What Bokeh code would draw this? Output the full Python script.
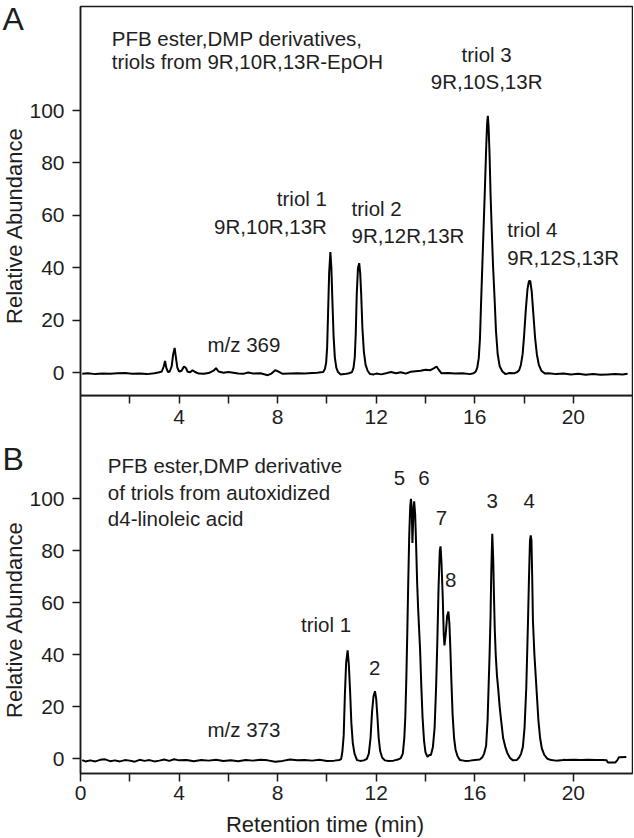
import math
from bokeh.plotting import figure
from bokeh.models import FixedTicker, Label, Range1d, ColumnDataSource
from bokeh.layouts import column, row
from bokeh.embed import file_html
from bokeh.resources import INLINE

# ---------------- data (time in min, relative abundance) ----------------
# Panel A : m/z 369, triols from 9R,10R,13R-EpOH
a_early = [(0.07, -0.4), (0.3, -0.2), (0.6, -0.5), (0.9, -0.3), (1.2, -0.4), (1.5, -0.2),
           (1.8, -0.1), (2.1, -0.4), (2.4, -0.3), (2.7, -0.5), (3.0, -0.2), (3.2, 0.2),
           (3.3, 0.5), (3.38, 2.5), (3.43, 4.5), (3.48, 2.0), (3.55, 0.3), (3.62, 0.5),
           (3.70, 2.5), (3.76, 7.0), (3.82, 9.5), (3.87, 6.0), (3.93, 2.0), (4.0, 0.5),
           (4.1, 0.8), (4.2, 2.4), (4.28, 1.8), (4.35, 0.4), (4.45, 0.2), (4.55, 1.0),
           (4.65, 0.3), (4.8, -0.3), (5.0, -0.4), (5.2, -0.1), (5.4, 0.8), (5.5, 1.8),
           (5.6, 0.5), (5.8, 0.0), (6.0, 0.3), (6.2, 0.0), (6.4, -0.3), (6.6, -0.4),
           (6.8, 0.1), (7.0, -0.3), (7.3, -0.2), (7.6, -0.9), (7.75, -0.3), (7.9, 1.0),
           (8.0, 0.6), (8.2, -0.4), (8.5, -0.3), (8.8, -0.2), (9.1, -0.3), (9.4, -0.1),
           (9.6, 0.0), (9.75, 0.2)]
a_triol1 = [(9.85, 0.3), (9.92, 1.5), (9.97, 4), (10.01, 10), (10.05, 24), (10.09, 38),
            (10.14, 46), (10.18, 40), (10.22, 28), (10.27, 14), (10.32, 6), (10.38, 2),
            (10.45, 0.3), (10.55, -0.6), (10.7, -0.5), (10.85, -0.3), (10.95, 0.0)]
a_triol2 = [(11.02, 0.3), (11.08, 2), (11.13, 6), (11.17, 15), (11.21, 30), (11.26, 40),
            (11.31, 41.8), (11.35, 38), (11.39, 30), (11.44, 17), (11.50, 8), (11.57, 3),
            (11.65, 0.8), (11.75, -0.5), (11.9, -0.6), (12.0, -0.3), (12.2, -0.6),
            (12.4, -0.2), (12.6, 0.3), (12.8, -0.2), (13.0, 0.2), (13.2, -0.3), (13.4, 0.4),
            (13.6, 0.6), (13.8, 0.8), (14.0, 1.2), (14.2, 1.0), (14.35, 1.8), (14.45, 2.4),
            (14.55, 1.0), (14.65, -0.2), (14.9, -0.1), (15.2, -0.3), (15.5, -0.2),
            (15.8, -0.5), (15.95, -0.2), (16.04, 0.5)]
a_triol3 = [(16.10, 2), (16.16, 5.5), (16.21, 13), (16.26, 28), (16.31, 42), (16.36, 56),
            (16.41, 70), (16.46, 85), (16.50, 95), (16.53, 98), (16.56, 94), (16.60, 83),
            (16.64, 68), (16.69, 54), (16.74, 41), (16.80, 29), (16.86, 16), (16.93, 7),
            (17.01, 2.5), (17.12, 0.5), (17.25, -0.5), (17.4, -0.1), (17.6, -0.2), (17.72, 0.3)]
a_triol4 = [(17.80, 1), (17.87, 3), (17.94, 7), (18.00, 14), (18.07, 24), (18.14, 32),
            (18.20, 35), (18.25, 35), (18.31, 31), (18.38, 22), (18.45, 13), (18.52, 7),
            (18.60, 3), (18.70, 0.8), (18.85, -0.3), (19.0, -0.2), (19.3, -0.5), (19.6, -0.3),
            (19.9, -0.6), (20.2, -0.4), (20.5, -0.7), (20.8, -0.5), (21.1, -0.7), (21.4, -0.6),
            (21.7, -0.5), (22.0, -0.6), (22.2, -0.4)]

# Panel B : m/z 373, triols from autoxidized d4-linoleic acid
b_early = [(0.07, -0.5), (0.2, -1.0), (0.4, -0.6), (0.6, -1.0), (0.8, -0.4), (1.0, -0.2),
           (1.2, -0.9), (1.4, -0.6), (1.6, -1.0), (1.8, -0.5), (2.0, -0.7), (2.2, -1.1),
           (2.4, -0.4), (2.6, -0.8), (2.8, -0.5), (3.0, -1.0), (3.2, -0.7), (3.4, -0.3),
           (3.6, -0.8), (3.8, -0.2), (4.0, -0.6), (4.3, -0.5), (4.6, -0.9), (4.9, -0.5),
           (5.2, -0.7), (5.5, -0.4), (5.8, -0.8), (6.1, -0.6), (6.4, -0.9), (6.7, -0.5),
           (7.0, -0.7), (7.3, -0.4), (7.6, -0.6), (7.9, -1.1), (8.2, -0.8), (8.5, -0.3),
           (8.8, -0.6), (9.1, -0.5), (9.4, -0.7), (9.7, -0.4), (10.0, -0.8), (10.3, -0.7),
           (10.5, -0.5)]
b_triol1 = [(10.58, 0.0), (10.63, 3), (10.68, 9), (10.73, 25), (10.78, 37), (10.84, 41.7),
            (10.89, 36), (10.94, 26), (10.99, 14), (11.05, 6), (11.12, 2), (11.22, -0.5),
            (11.35, -0.8), (11.5, -0.6)]
b_peak2 = [(11.62, 0.0), (11.70, 2), (11.77, 8), (11.83, 18), (11.89, 24), (11.95, 26),
           (12.00, 23), (12.05, 16), (12.10, 8), (12.16, 3), (12.24, 0.5), (12.35, -0.6),
           (12.5, -0.8), (12.7, -0.7), (12.88, -0.3)]
b_peak56 = [(13.00, 0.3), (13.08, 2), (13.14, 8), (13.18, 16), (13.22, 30), (13.26, 48),
            (13.30, 68), (13.34, 86), (13.38, 97), (13.41, 100), (13.44, 97), (13.47, 83),
            (13.50, 92), (13.54, 99), (13.58, 94), (13.62, 82), (13.66, 68), (13.70, 58),
            (13.74, 50), (13.78, 42), (13.83, 28), (13.88, 16), (13.94, 7), (14.00, 2.5),
            (14.08, 0.8), (14.16, 1.5)]
b_peak78 = [(14.22, 1.5), (14.30, 4.5), (14.37, 12), (14.43, 27.5), (14.48, 45), (14.53, 66),
            (14.58, 80), (14.61, 81.7), (14.65, 75), (14.70, 62), (14.74, 48), (14.77, 43.6),
            (14.82, 48), (14.88, 55), (14.93, 56.6), (14.97, 52), (15.01, 42), (15.05, 30),
            (15.10, 17), (15.16, 8), (15.22, 3.5), (15.30, 1), (15.40, -0.5), (15.6, -0.8),
            (15.8, -0.7), (16.0, -0.5), (16.2, -0.3)]
b_peak3 = [(16.30, 0.5), (16.38, 2), (16.46, 5), (16.52, 15), (16.56, 27.5), (16.60, 40),
           (16.64, 55), (16.67, 72), (16.71, 86.5), (16.75, 76), (16.78, 62), (16.81, 50),
           (16.85, 40), (16.90, 32), (16.95, 27), (17.01, 20), (17.07, 14.7), (17.15, 8),
           (17.24, 4.5), (17.33, 2), (17.43, 0.3), (17.55, -0.6), (17.7, -0.5)]
b_peak4 = [(17.80, 0.5), (17.88, 2), (17.95, 4.5), (18.02, 12), (18.09, 27.5), (18.13, 42),
           (18.16, 53), (18.20, 70), (18.24, 84), (18.27, 85.9), (18.30, 84), (18.33, 70),
           (18.36, 53), (18.42, 40), (18.50, 27.5), (18.58, 15), (18.65, 8), (18.72, 4),
           (18.82, 1.5), (18.95, 0), (19.1, -0.5), (19.3, -0.7), (19.5, -0.6), (19.62, -0.4)]
b_tail = [(19.7, -0.5), (20.0, -0.4), (20.3, -0.5), (20.6, -0.4), (20.9, -0.5), (21.2, -0.5),
          (21.35, -0.6), (21.4, -1.4), (21.7, -1.4), (21.78, -0.6), (21.85, 0.6), (22.15, 0.7)]

x_ticks_a = [4, 8, 12, 16, 20]
x_ticks_b = [0, 4, 8, 12, 16, 20]
x_minor = [2, 6, 10, 14, 18]
y_ticks = [0, 20, 40, 60, 80, 100]

FONT = "Liberation Sans"
TXT = "#1e1e1e"
LINE = "#1a1a1a"
XR = (0, 22.4)
GUTTER = 26
PPU_A = 389 / 148.3   # pixels per abundance unit, panel A
PPU_B = 378 / 145.35  # pixels per abundance unit, panel B


def series(*segments):
    pts = [p for seg in segments for p in seg]
    return ColumnDataSource(dict(t=[p[0] for p in pts], v=[p[1] for p in pts]))


def style(p, xticks, xstandoff):
    p.xaxis.ticker = FixedTicker(ticks=xticks, minor_ticks=x_minor)
    p.yaxis.ticker = FixedTicker(ticks=y_ticks, minor_ticks=[])
    for ax in p.axis:
        ax.major_tick_out = 8
        ax.major_tick_in = 0
        ax.minor_tick_out = 8
        ax.minor_tick_in = 0
        ax.axis_line_color = LINE
        ax.major_tick_line_color = LINE
        ax.minor_tick_line_color = LINE
        ax.axis_line_width = 1.5
        ax.major_tick_line_width = 1.5
        ax.minor_tick_line_width = 1.5
        ax.major_label_text_font = FONT
        ax.major_label_text_font_size = "21px"
        ax.major_label_text_color = TXT
    p.xaxis.major_label_standoff = xstandoff
    p.yaxis.major_label_standoff = 8
    p.xgrid.visible = False
    p.ygrid.visible = False
    p.outline_line_color = LINE
    p.outline_line_width = 1.5
    p.outline_line_alpha = 1.0


def label(p, x, y_base, text, ppu=1.0, align="left", size=20.5, angle=0.0):
    # y_base is the text baseline; the label is anchored at the middle of the capitals
    y = y_base + 0.36 * size / ppu
    p.add_layout(Label(x=x, y=y, text=text, text_align=align, text_baseline="middle",
                       text_font=FONT, text_font_size=f"{size}px", text_color=TXT, angle=angle))


def blank(width, height, x_range, y_range, left=0, right=0):
    p = figure(frame_width=width, frame_height=height, x_range=x_range, y_range=y_range,
               x_axis_type=None, y_axis_type=None, output_backend="svg", toolbar_location=None,
               min_border_left=left, min_border_right=right, min_border_top=0, min_border_bottom=0)
    p.outline_line_color = None
    p.grid.visible = False
    p.background_fill_color = None
    p.border_fill_color = None
    return p


# ---- panel A ----
pA = figure(frame_width=552, frame_height=389, x_range=Range1d(*XR), y_range=Range1d(-8.65, 139.65),
            output_backend="svg", toolbar_location=None,
            min_border_left=80 - GUTTER, min_border_right=1, min_border_top=6, min_border_bottom=50)
style(pA, x_ticks_a, 6)
pA.line("t", "v", source=series(a_early, a_triol1, a_triol2, a_triol3, a_triol4),
        line_color="black", line_width=2)

label(pA, 1.27, 124.8, "PFB ester,DMP derivatives,", PPU_A)
label(pA, 1.27, 115.8, "triols from 9R,10R,13R-EpOH", PPU_A)
label(pA, 16.48, 118.7, "triol 3", PPU_A, align="center")
label(pA, 16.48, 108.3, "9R,10S,13R", PPU_A, align="center")
label(pA, 10.0, 63.8, "triol 1", PPU_A, align="right")
label(pA, 10.0, 53.0, "9R,10R,13R", PPU_A, align="right")
label(pA, 11.0, 60.0, "triol 2", PPU_A)
label(pA, 11.0, 49.4, "9R,12R,13R", PPU_A)
label(pA, 17.32, 51.7, "triol 4", PPU_A)
label(pA, 17.32, 41.3, "9R,12S,13R", PPU_A)
label(pA, 5.15, 7.85, "m/z 369", PPU_A)

# ---- panel B ----
pB = figure(frame_width=552, frame_height=378, x_range=Range1d(*XR), y_range=Range1d(-5.65, 139.7),
            output_backend="svg", toolbar_location=None,
            min_border_left=80 - GUTTER, min_border_right=1, min_border_top=0, min_border_bottom=52)
style(pB, x_ticks_b, 4)
pB.background_fill_color = None
pB.border_fill_color = None
pB.styles = {"margin-top": "-50px"}
pB.line("t", "v", source=series(b_early, b_triol1, b_peak2, b_peak56, b_peak78, b_peak3, b_peak4, b_tail),
        line_color="black", line_width=2)

label(pB, 1.11, 110.1, "PFB ester,DMP derivative", PPU_B)
label(pB, 1.11, 99.7, "of triols from autoxidized", PPU_B)
label(pB, 1.11, 89.7, "d4-linoleic acid", PPU_B)
label(pB, 12.94, 105.1, "5", PPU_B, align="center")
label(pB, 13.94, 105.1, "6", PPU_B, align="center")
label(pB, 14.65, 89.7, "7", PPU_B, align="center")
label(pB, 15.02, 66.0, "8", PPU_B, align="center")
label(pB, 16.71, 96.2, "3", PPU_B, align="center")
label(pB, 18.21, 96.2, "4", PPU_B, align="center")
label(pB, 10.98, 48.7, "triol 1", PPU_B, align="right")
label(pB, 11.94, 32.0, "2", PPU_B, align="center")
label(pB, 5.15, 8.3, "m/z 373", PPU_B)

# ---- x-axis title strip (page y 807..837) ----
pX = blank(552, 30, Range1d(*XR), Range1d(0, 30), left=80 - GUTTER, right=1)
pX.styles = {"margin-top": "-18px"}
label(pX, 9.92, 837 - 832, "Retention time (min)", align="center", size=22)

# ---- left gutter with panel letters and y-axis titles (page pixel coordinates) ----
pG = blank(GUTTER, 838, Range1d(0, GUTTER), Range1d(0, 838))
label(pG, 2, 838 - 30, "A", size=32)
label(pG, 2, 838 - 470, "B", size=32)
pG.add_layout(Label(x=13.5, y=838 - 225, text="Relative Abundance", angle=math.pi / 2,
                    text_align="center", text_baseline="middle", text_font=FONT,
                    text_font_size="22px", text_color=TXT))
pG.add_layout(Label(x=13.5, y=838 - 619, text="Relative Abundance", angle=math.pi / 2,
                    text_align="center", text_baseline="middle", text_font=FONT,
                    text_font_size="22px", text_color=TXT))

layout = row(pG, column(pA, pB, pX))
open("out.html", "w").write(file_html(layout, INLINE))
